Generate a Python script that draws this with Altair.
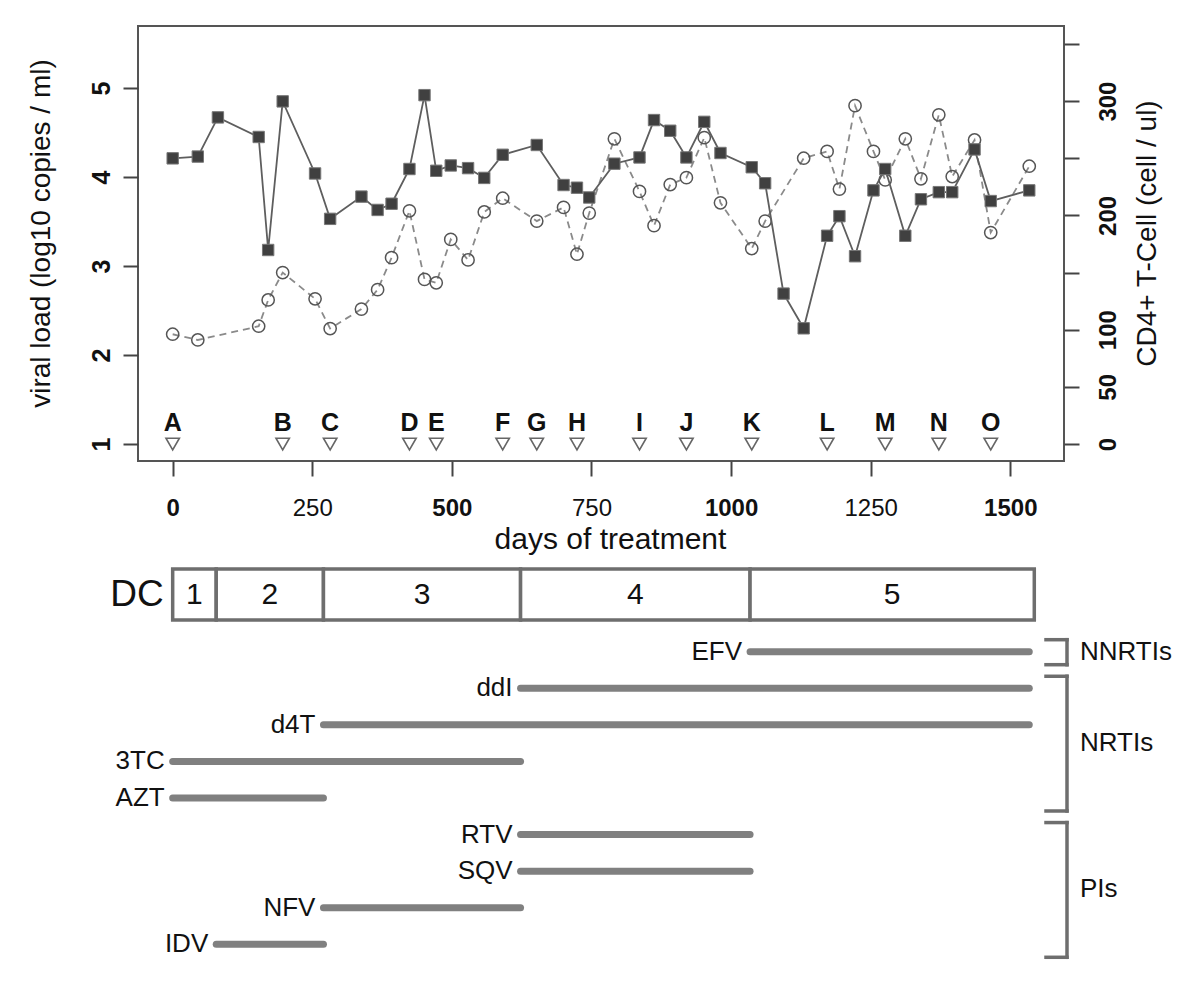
import altair as alt
import pandas as pd

FONT = "Liberation Sans"

# ---------------- data ----------------
vl_days = [0, 45, 81, 154, 171, 197, 255, 282, 338, 367, 392, 424, 451, 472, 498,
           529, 558, 591, 652, 700, 724, 746, 791, 836, 862, 891, 920, 952, 981, 1037,
           1061, 1094, 1130, 1172, 1194, 1222, 1255, 1276, 1312, 1340, 1372, 1396, 1436, 1465, 1534]
vl_values = [4.21, 4.23, 4.67, 4.45, 3.18, 4.85, 4.04, 3.53, 3.78, 3.63, 3.70, 4.09, 4.92, 4.07, 4.13,
             4.10, 3.99, 4.25, 4.36, 3.91, 3.88, 3.77, 4.15, 4.22, 4.64, 4.52, 4.22, 4.62, 4.27, 4.11,
             3.93, 2.69, 2.30, 3.34, 3.56, 3.11, 3.85, 4.09, 3.34, 3.75, 3.83, 3.83, 4.31, 3.73, 3.85]

cd4_days = [0, 45, 154, 171, 197, 255, 282, 338, 367, 392, 424, 451, 472, 498,
            529, 558, 591, 652, 700, 724, 746, 791, 836, 862, 891, 920, 952, 981, 1037,
            1061, 1130, 1172, 1194, 1222, 1255, 1276, 1312, 1340, 1372, 1396, 1436, 1465, 1534]
cd4_values = [96, 91, 103, 126, 150, 127, 101, 118, 135, 163, 204, 144, 141, 179,
              161, 203, 215, 195, 207, 166, 202, 267, 221, 191, 227, 233, 268, 211, 171,
              195, 250, 256, 223, 296, 256, 231, 267, 232, 288, 234, 266, 185, 243]

marker_labels = list("ABCDEFGHIJKLMNO")
marker_days = [0, 197, 282, 424, 472, 591, 652, 724, 836, 920, 1037, 1172, 1276, 1372, 1465]

x_ticks = [0, 250, 500, 750, 1000, 1250, 1500]
vl_ticks = [1, 2, 3, 4, 5]
cd4_ticks = [0, 50, 100, 150, 200, 250, 300, 350]
cd4_tick_labels = [0, 50, 100, 200, 300]

dc_labels = ["1", "2", "3", "4", "5"]
dc_start = [0, 78, 270, 623, 1034]
dc_end = [78, 270, 623, 1034, 1543]

drugs = ["EFV", "ddI", "d4T", "3TC", "AZT", "RTV", "SQV", "NFV", "IDV"]
drug_start = [1034, 623, 270, 0, 0, 623, 623, 270, 78]
drug_end = [1534, 1534, 1534, 623, 270, 1034, 1034, 623, 270]

groups = ["NNRTIs", "NRTIs", "PIs"]
group_first = ["EFV", "ddI", "RTV"]
group_last = ["EFV", "AZT", "IDV"]

# ---------------- frames ----------------
vl_df = pd.DataFrame({"day": vl_days, "vl": vl_values})
cd4_df = pd.DataFrame({"day": cd4_days, "cd4": cd4_values})
mk_df = pd.DataFrame({"day": marker_days, "label": marker_labels})
dc_df = pd.DataFrame({"label": dc_labels, "start": dc_start, "end": dc_end})
dc_name_df = pd.DataFrame({"label": ["DC"], "day": [dc_start[0]]})
drug_df = pd.DataFrame({"drug": drugs, "start": drug_start, "end": drug_end,
                        "row": list(range(len(drugs)))})
grp_df = pd.DataFrame({
    "group": groups,
    "first": [drugs.index(d) for d in group_first],
    "last": [drugs.index(d) for d in group_last],
})
grp_df["mid"] = (grp_df["first"] + grp_df["last"]) / 2

# ---------------- scales / axes ----------------
W = 926
xscale = alt.Scale(domain=[-62.1, 1596.2], nice=False, zero=False)
vl_scale = alt.Scale(domain=[0.809, 5.697], nice=False, zero=False)
cd4_scale = alt.Scale(domain=[-14.9, 365.7], nice=False, zero=False)

x_axis = alt.Axis(values=x_ticks, format="d", title="days of treatment",
                  labelFontSize=24,
                  labelFontWeight={"condition": {"test": "datum.value % 500 === 0", "value": "bold"},
                                   "value": "normal"},
                  labelColor="#111", labelPadding=20, labelFlush=False,
                  tickSize=15, tickWidth=2, tickColor="#444", domain=False, grid=False,
                  titleFontSize=30, titleFontWeight="normal", titleColor="#111",
                  titlePadding=4, titleX=472)

vl_axis = alt.Axis(values=vl_ticks, orient="left", title="viral load (log10 copies / ml)",
                   labelAngle=270, labelAlign="center", labelBaseline="bottom",
                   labelFontWeight="bold", labelFontSize=25, labelPadding=9, labelColor="#111",
                   tickSize=15, tickWidth=2, tickColor="#444", domain=False, grid=False,
                   titleFontSize=28, titleFontWeight="normal", titleColor="#111",
                   titlePadding=34, titleY=207)

cd4_axis = alt.Axis(values=cd4_ticks, orient="right", title="CD4+ T-Cell (cell / ul)",
                    labelExpr="indexof(" + str(cd4_tick_labels) + ", datum.value) >= 0 ? datum.label : ''",
                    labelAngle=270, labelAlign="center", labelBaseline="top",
                    labelFontWeight="bold", labelFontSize=24, labelPadding=17, labelColor="#111",
                    tickSize=15, tickWidth=2, tickColor="#444", domain=False, grid=False,
                    titleFontSize=28, titleFontWeight="normal", titleColor="#111",
                    titleAngle=270, titleBaseline="top", titlePadding=13, titleY=207)

X = alt.X("day:Q", scale=xscale, axis=x_axis)

# ---------------- top panel ----------------
cd4_line = alt.Chart(cd4_df).mark_line(color="#8a8a8a", strokeWidth=1.8, strokeDash=[7, 5]).encode(
    x=X, y=alt.Y("cd4:Q", scale=cd4_scale, axis=cd4_axis))
cd4_pts = alt.Chart(cd4_df).mark_point(shape="circle", filled=False, stroke="#555", strokeWidth=1.5,
                                       size=150, opacity=1).encode(
    x=X, y=alt.Y("cd4:Q", scale=cd4_scale, axis=cd4_axis))
cd4_group = alt.layer(cd4_line, cd4_pts)

vl_line = alt.Chart(vl_df).mark_line(color="#5e5e5e", strokeWidth=1.8).encode(
    x=X, y=alt.Y("vl:Q", scale=vl_scale, axis=vl_axis))
vl_pts = alt.Chart(vl_df).mark_point(shape="square", filled=True, fill="#404040", stroke="#777",
                                     strokeWidth=1, size=130, opacity=1).encode(
    x=X, y=alt.Y("vl:Q", scale=vl_scale, axis=vl_axis))
tri = alt.Chart(mk_df).mark_point(shape="triangle-down", filled=True, fill="white", stroke="#666",
                                  strokeWidth=1.6, size=180, opacity=1).encode(
    x=X, y=alt.YDatum(1, type="quantitative", scale=vl_scale, axis=vl_axis))
letters = alt.Chart(mk_df).mark_text(fontSize=25, fontWeight="bold", color="#111", dy=-21,
                                     baseline="middle").encode(
    x=X, y=alt.YDatum(1, type="quantitative", scale=vl_scale, axis=vl_axis), text="label:N")
vl_group = alt.layer(vl_line, vl_pts, tri, letters)

top = alt.layer(cd4_group, vl_group).resolve_scale(y="independent").properties(
    width=W, height=435, view=alt.ViewBackground(stroke="#555", strokeWidth=2))

# ---------------- bottom panel ----------------
BX = alt.X("start:Q", scale=xscale, axis=None)
rowscale = alt.Scale(domain=[-2.480, 8.457], reverse=True, nice=False, zero=False)

dc_box = alt.Chart(dc_df).mark_rect(fill="white", stroke="#6e6e6e", strokeWidth=3.5).encode(
    x=BX, x2="end:Q", y=alt.value(8), y2=alt.value(59))
dc_text = alt.Chart(dc_df).transform_calculate(mid="(datum.start + datum.end) / 2").mark_text(
    fontSize=30, color="#111", baseline="middle").encode(
    x=alt.X("mid:Q", scale=xscale, axis=None), y=alt.value(34), text="label:N")
dc_name = alt.Chart(dc_name_df).mark_text(fontSize=37, color="#111", align="right", baseline="middle",
                                          dx=-9).encode(
    x=alt.X("day:Q", scale=xscale, axis=None), y=alt.value(34), text="label:N")

bars = alt.Chart(drug_df).mark_rule(color="#808080", strokeWidth=7, strokeCap="round").encode(
    x=BX, x2="end:Q", y=alt.Y("row:Q", scale=rowscale, axis=None))
drug_text = alt.Chart(drug_df).mark_text(fontSize=26, color="#111", align="right", baseline="middle",
                                         dx=-8).encode(
    x=BX, y=alt.Y("row:Q", scale=rowscale, axis=None), text="drug:N")

br_v = alt.Chart(grp_df).mark_rule(color="#6e6e6e", strokeWidth=3.5, yOffset=-12, y2Offset=13,
                                   strokeCap="square").encode(
    x=alt.value(929), y=alt.Y("first:Q", scale=rowscale, axis=None), y2="last:Q")
br_t = alt.Chart(grp_df).mark_rule(color="#6e6e6e", strokeWidth=3.5, yOffset=-12,
                                   strokeCap="square").encode(
    x=alt.value(908), x2=alt.value(929), y=alt.Y("first:Q", scale=rowscale, axis=None))
br_b = alt.Chart(grp_df).mark_rule(color="#6e6e6e", strokeWidth=3.5, yOffset=13,
                                   strokeCap="square").encode(
    x=alt.value(908), x2=alt.value(929), y=alt.Y("last:Q", scale=rowscale, axis=None))
grp_text = alt.Chart(grp_df).mark_text(fontSize=26, color="#111", align="left", baseline="middle").encode(
    x=alt.value(942), y=alt.Y("mid:Q", scale=rowscale, axis=None), text="group:N")

bottom = alt.layer(dc_box, dc_text, dc_name, bars, drug_text, br_v, br_t, br_b, grp_text).properties(
    width=W, height=400, view=alt.ViewBackground(stroke="transparent"))

chart = alt.vconcat(top, bottom, spacing=100, bounds="flush").properties(
    padding={"left": 18, "top": 17, "right": 5, "bottom": 5},
    background="white",
).configure(font=FONT).configure_view(stroke="transparent")

chart.save("out.html", embed_options={"renderer": "svg", "actions": False})
